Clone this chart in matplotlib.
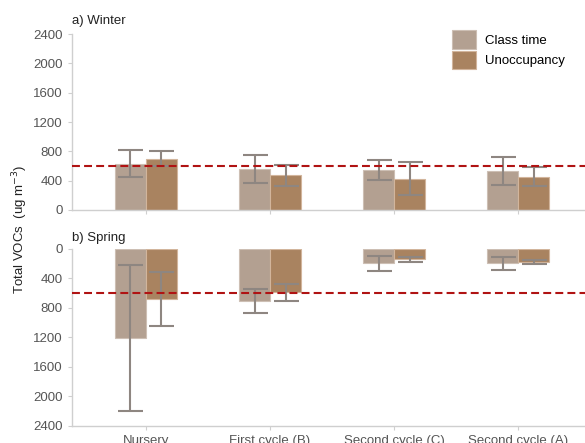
import matplotlib.pyplot as plt
import numpy as np

plt.rcParams['font.family'] = ['Liberation Sans', 'DejaVu Sans']

categories = ['Nursery', 'First cycle (B)', 'Second cycle (C)', 'Second cycle (A)']

# winter (a)
winter_class = [630, 560, 545, 532]
winter_class_err = [185, 188, 133, 192]
winter_unocc = [700, 471, 428, 453]
winter_unocc_err = [106, 145, 224, 127]

# spring (b)
spring_class = [1205, 712, 193, 195]
spring_class_err = [992, 163, 102, 86]
spring_unocc = [681, 590, 143, 179]
spring_unocc_err = [363, 113, 30, 25]

limit_value = 600

c_class = '#b3a091'
c_unocc = '#a98360'
c_err = '#8e8681'
c_spine = '#cfcfcf'
c_tick = '#555555'

fig = plt.figure(figsize=(5.85, 4.43), dpi=100)
ax1 = fig.add_axes([0.123, 0.526, 0.877, 0.397])
ax2 = fig.add_axes([0.123, 0.039, 0.877, 0.399])

x = np.arange(len(categories))
w = 0.25


def draw(ax, cls, cls_err, unocc, unocc_err):
    ax.bar(x - w / 2, cls, w, color=c_class, edgecolor='#cdbfb4', linewidth=0.8,
           label='Class time', zorder=2)
    ax.bar(x + w / 2, unocc, w, color=c_unocc, edgecolor='#d2b59c', linewidth=0.8,
           label='Unoccupancy', zorder=2)
    ax.errorbar(x - w / 2, cls, yerr=cls_err, fmt='none', ecolor=c_err,
                elinewidth=1.5, capsize=9, capthick=1.5, zorder=3)
    ax.errorbar(x + w / 2, unocc, yerr=unocc_err, fmt='none', ecolor=c_err,
                elinewidth=1.5, capsize=9, capthick=1.5, zorder=3)
    ax.axhline(limit_value, color='#b01313', linestyle=(0, (3.8, 2.0)), linewidth=1.5, zorder=4)
    ax.set_xlim(-0.597, 3.54)
    ax.set_yticks(np.arange(0, 2401, 400))
    ax.set_xticks(x)
    for s in ['top', 'right']:
        ax.spines[s].set_visible(False)
    for s in ['left', 'bottom']:
        ax.spines[s].set_color(c_spine)
        ax.spines[s].set_linewidth(1)
    ax.tick_params(colors=c_spine, labelcolor=c_tick, labelsize=9.5, length=3)


draw(ax1, winter_class, winter_class_err, winter_unocc, winter_unocc_err)
ax1.set_ylim(0, 2400)
ax1.set_xticklabels([])

draw(ax2, spring_class, spring_class_err, spring_unocc, spring_unocc_err)
ax2.set_ylim(2400, 0)
ax2.set_xticklabels(categories)

ax1.set_title('a) Winter', loc='left', fontsize=9.5, pad=7.5, color='#222222')
ax2.set_title('b) Spring', loc='left', fontsize=9.5, pad=5.5, color='#222222')

fig.text(0.034, 0.483, 'Total VOCs  (ug m$^{-3}$)', rotation=90, ha='center', va='center',
         fontsize=9.5, color='#222222')

ax1.legend(loc='upper left', bbox_to_anchor=(0.773, 0.932), bbox_transform=fig.transFigure,
           frameon=False, fontsize=9.5, handlelength=1.8, handleheight=1.8,
           labelspacing=0.15, handletextpad=0.7, borderpad=0, borderaxespad=0)

fig.savefig('out.png', dpi=100)
